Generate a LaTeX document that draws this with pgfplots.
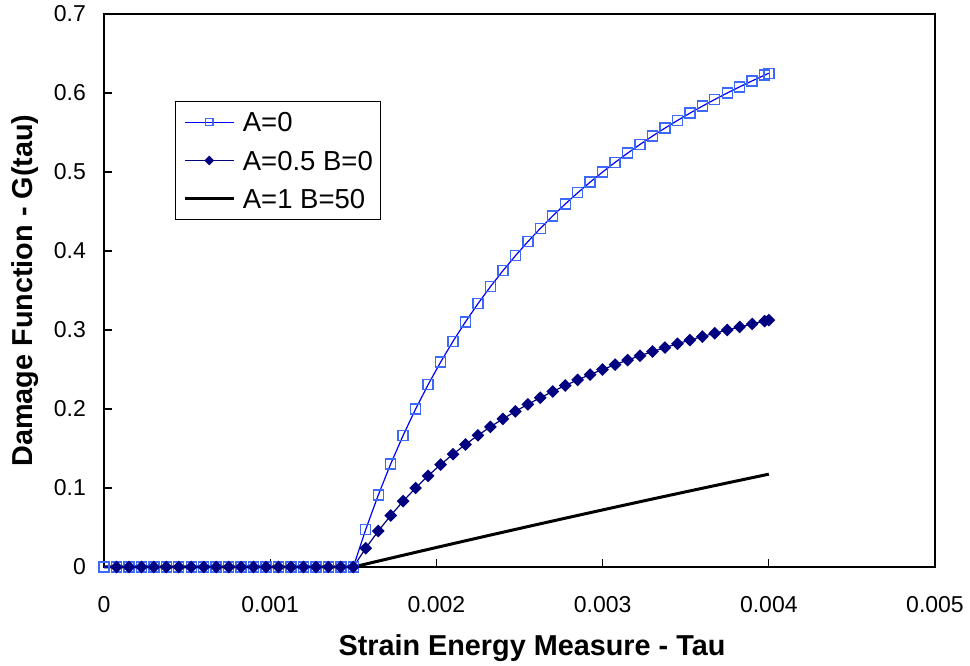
\documentclass[border=0pt]{standalone}
\usepackage{fontspec}
\setmainfont{Liberation Sans}
\usepackage{pgfplots}
\pgfplotsset{compat=1.18}
\definecolor{sqblue}{RGB}{60,105,250}
\definecolor{lnblue}{RGB}{0,0,255}
\definecolor{navyc}{RGB}{0,0,128}

\begin{document}
\begin{tikzpicture}
\begin{axis}[name=ax, scale only axis, width=415.5pt, height=276.5pt,
  xmin=0, xmax=0.005, ymin=0, ymax=0.7, clip=false,
  axis line style={line width=0.75pt},
  tick align=inside, tick pos=left, major tick length=4pt,
  tick style={black, line width=0.6pt},
  scaled x ticks=false, scaled y ticks=false,
  xtick={0,0.001,0.002,0.003,0.004,0.005},
  xticklabels={0,0.001,0.002,0.003,0.004,0.005},
  ytick={0,0.1,0.2,0.3,0.4,0.5,0.6,0.7},
  yticklabels={0,0.1,0.2,0.3,0.4,0.5,0.6,0.7},
  /pgf/number format/assume math mode=true,
  ticklabel style={font=\fontsize{11.5}{13.5}\selectfont},
  xticklabel style={yshift=-11pt},
  yticklabel style={xshift=-5.5pt},
  label style={font=\bfseries\fontsize{14.4}{17}\selectfont},
  xlabel={Strain Energy Measure - Tau},
  ylabel={Damage Function - G(tau)},
  xlabel style={at={(axis description cs:0.515,-0.1465)}, anchor=center},
  ylabel style={at={(axis description cs:-0.095,0.5)}, anchor=center},
  legend cell align=left,
  legend style={at={(axis description cs:0.0854,0.8427)}, anchor=north west,
    draw=black, line width=0.5pt, font=\fontsize{13.75}{16}\selectfont,
    inner xsep=3.9pt, inner ysep=5.4pt, row sep=9.35pt, column sep=3.8pt,
    nodes={inner sep=0pt, text height=9.85pt, text depth=0pt}},
  legend image code/.code={\draw[mark repeat=2,mark phase=2,#1,every mark/.append style={scale=0.72}] plot coordinates {(0pt,0pt) (12.25pt,0pt) (24.5pt,0pt)};},
]
% A=1 B=50 (drawn first, behind)
\addplot[black, line width=1.5pt, forget plot] coordinates {
(0,0) (0.0015,0)
(0.001575,0.003743) (0.00165,0.007472) (0.001725,0.011187) (0.0018,0.014888)
(0.001875,0.018575) (0.00195,0.022249) (0.002025,0.025908) (0.0021,0.029554)
(0.002175,0.033187) (0.00225,0.036806) (0.002325,0.040411) (0.0024,0.044002)
(0.002475,0.047581) (0.00255,0.051146) (0.002625,0.054697) (0.0027,0.058235)
(0.002775,0.061760) (0.00285,0.065272) (0.002925,0.068771) (0.003,0.072257)
(0.003075,0.075729) (0.00315,0.079189) (0.003225,0.082636) (0.0033,0.086069)
(0.003375,0.089489) (0.00345,0.092897) (0.003525,0.096291) (0.0036,0.099672)
(0.003675,0.103041) (0.00375,0.106397) (0.003825,0.109740) (0.0039,0.113071)
(0.003975,0.116389) (0.004,0.117503)
};
% A=0
\addplot[lnblue, line width=0.6pt, mark=square, mark size=2.5pt,
  mark options={draw=sqblue, line width=0.7pt, fill=none}] coordinates {
(0,0) (0.000075,0) (0.00015,0) (0.000225,0) (0.0003,0) (0.000375,0) (0.00045,0)
(0.000525,0) (0.0006,0) (0.000675,0) (0.00075,0) (0.000825,0) (0.0009,0)
(0.000975,0) (0.00105,0) (0.001125,0) (0.0012,0) (0.001275,0) (0.00135,0)
(0.001425,0) (0.0015,0)
(0.001575,0.047619) (0.00165,0.090909) (0.001725,0.130435) (0.0018,0.166667)
(0.001875,0.2) (0.00195,0.230769) (0.002025,0.259259) (0.0021,0.285714)
(0.002175,0.310345) (0.00225,0.333333) (0.002325,0.354839) (0.0024,0.375)
(0.002475,0.393939) (0.00255,0.411765) (0.002625,0.428571) (0.0027,0.444444)
(0.002775,0.459459) (0.00285,0.473684) (0.002925,0.487179) (0.003,0.5)
(0.003075,0.512195) (0.00315,0.523810) (0.003225,0.534884) (0.0033,0.545455)
(0.003375,0.555556) (0.00345,0.565217) (0.003525,0.574468) (0.0036,0.583333)
(0.003675,0.591837) (0.00375,0.6) (0.003825,0.607843) (0.0039,0.615385)
(0.003975,0.622642) (0.004,0.625)
};
\addlegendentry{A=0}
% A=0.5 B=0
\addplot[navyc, line width=0.6pt, mark=square*, mark size=1.95pt,
  mark options={rotate=45, fill=navyc, draw=navyc}] coordinates {
(0.000075,0) (0.00015,0) (0.000225,0) (0.0003,0) (0.000375,0) (0.00045,0)
(0.000525,0) (0.0006,0) (0.000675,0) (0.00075,0) (0.000825,0) (0.0009,0)
(0.000975,0) (0.00105,0) (0.001125,0) (0.0012,0) (0.001275,0) (0.00135,0)
(0.001425,0) (0.0015,0)
(0.001575,0.023810) (0.00165,0.045455) (0.001725,0.065217) (0.0018,0.083333)
(0.001875,0.1) (0.00195,0.115385) (0.002025,0.129630) (0.0021,0.142857)
(0.002175,0.155172) (0.00225,0.166667) (0.002325,0.177419) (0.0024,0.1875)
(0.002475,0.196970) (0.00255,0.205882) (0.002625,0.214286) (0.0027,0.222222)
(0.002775,0.229730) (0.00285,0.236842) (0.002925,0.243590) (0.003,0.25)
(0.003075,0.256098) (0.00315,0.261905) (0.003225,0.267442) (0.0033,0.272727)
(0.003375,0.277778) (0.00345,0.282609) (0.003525,0.287234) (0.0036,0.291667)
(0.003675,0.295918) (0.00375,0.3) (0.003825,0.303922) (0.0039,0.307692)
(0.003975,0.311321) (0.004,0.3125)
};
\addlegendentry{A=0.5 B=0}
\addlegendimage{black, line width=1.5pt}
\addlegendentry{A=1 B=50}
\end{axis}
\pgfresetboundingbox
\path ([shift={(-52pt,-49.5pt)}]ax.south west) rectangle ([shift={(17.5pt,7pt)}]ax.north east);
\end{tikzpicture}
\end{document}
